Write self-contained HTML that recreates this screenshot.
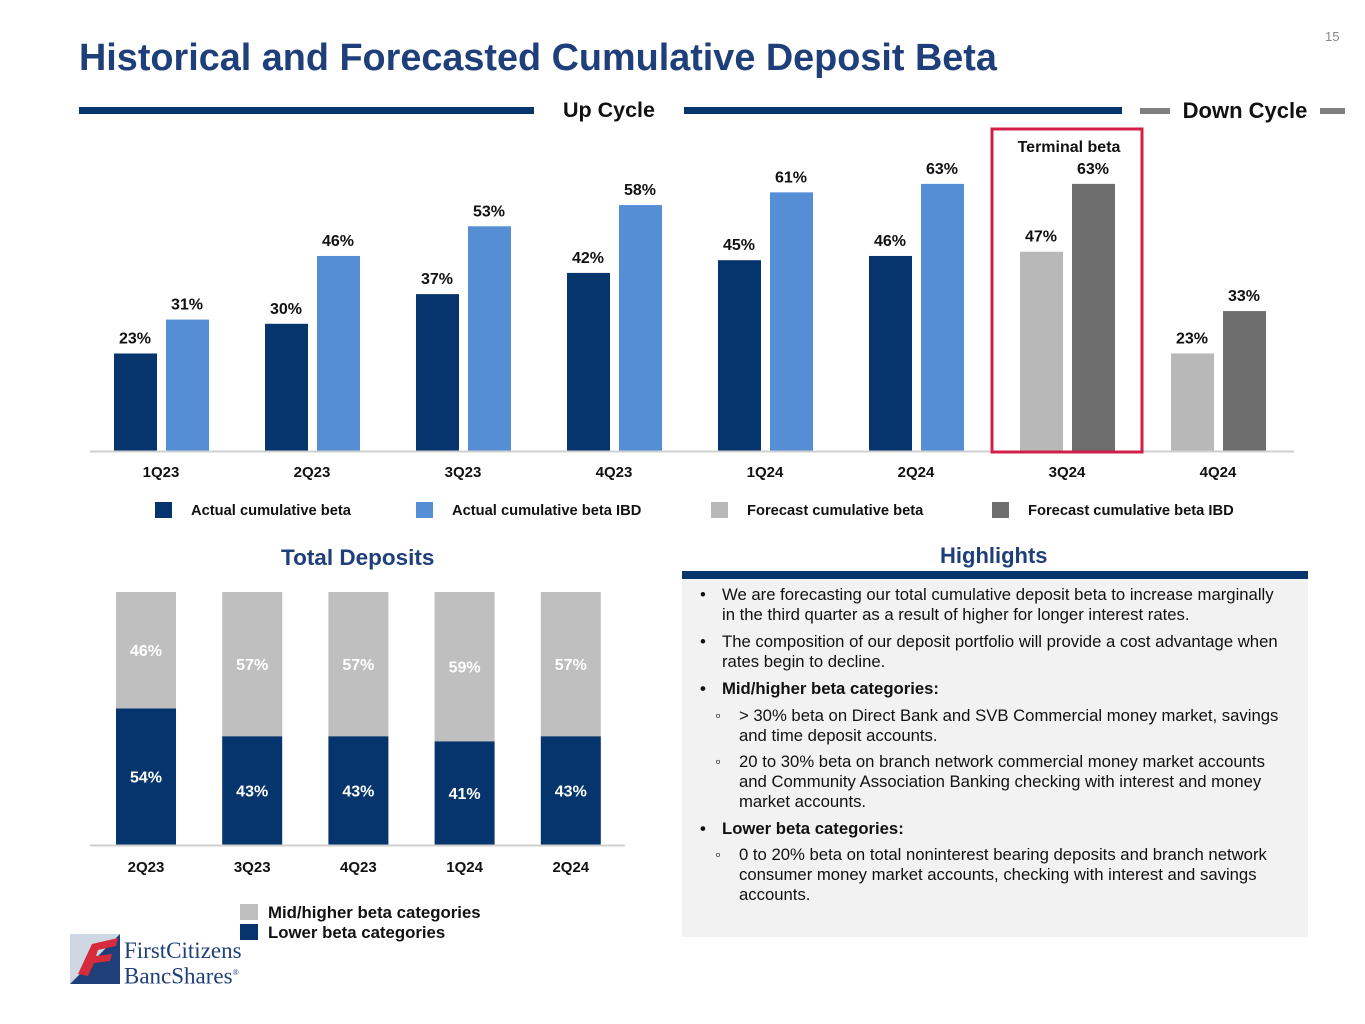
<!DOCTYPE html>
<html><head><meta charset="utf-8">
<style>
body{margin:0;width:1365px;height:1024px;background:#fff;font-family:"Liberation Sans",Arial,sans-serif;position:relative;overflow:hidden}
.abs{position:absolute;white-space:nowrap}
.hl{position:absolute;font-size:16.7px;color:#111;white-space:nowrap;line-height:20px}
</style></head><body>
<div class="abs" style="left:79px;top:37px;font-size:37.8px;font-weight:bold;color:#1f3f7a">Historical and Forecasted Cumulative Deposit Beta</div>
<div class="abs" style="left:1325px;top:29px;font-size:13px;color:#888">15</div>

<svg id="topChart" width="1365" height="540" style="position:absolute;left:0;top:0" font-family="Liberation Sans, Arial, sans-serif"></svg>

<div class="abs" style="left:281px;top:545px;font-size:22.5px;font-weight:bold;color:#1f3f7a">Total Deposits</div>
<svg id="botChart" width="680" height="400" style="position:absolute;left:0;top:580px" font-family="Liberation Sans, Arial, sans-serif"></svg>
<div class="abs" style="left:240px;top:903px;font-size:16.8px;font-weight:bold;color:#111"><span style="display:inline-block;width:18px;height:16px;background:#bfbfbf;vertical-align:-2px;margin-right:10px"></span>Mid/higher beta categories</div>
<div class="abs" style="left:240px;top:923px;font-size:16.8px;font-weight:bold;color:#111"><span style="display:inline-block;width:18px;height:16px;background:#06346c;vertical-align:-2px;margin-right:10px"></span>Lower beta categories</div>

<div class="abs" style="left:70px;top:930px;width:190px;height:56px">
<svg width="52" height="54" style="position:absolute;left:0;top:0"><rect x="0" y="4" width="50" height="50" fill="#1f3f7a"/><polygon points="0,4 50,4 0,54" fill="#cfd6e4"/><path d="M8 44 L22 14 L48 8 L46 16 L28 20 L26 26 L42 24 L40 31 L24 33 L18 46 Z" fill="#d52b3a"/></svg>
<div class="abs" style="left:54px;top:10px;font-family:'Liberation Serif',serif;font-size:23px;color:#1f3f7a;line-height:22px">FirstCitizens<br>BancShares<sup style="font-size:8px">®</sup></div>
</div>

<div class="abs" style="left:940px;top:543px;font-size:22px;font-weight:bold;color:#1f3f7a">Highlights</div>
<div class="abs" style="left:682px;top:571px;width:626px;height:8px;background:#06346c"></div>
<div class="abs" style="left:682px;top:579px;width:626px;height:358px;background:#f2f2f2"></div>
<div class="hl" style="left:700px;top:585px">•</div>
<div class="hl" style="left:722px;top:585px">We are forecasting our total cumulative deposit beta to increase marginally<br>in the third quarter as a result of higher for longer interest rates.</div>
<div class="hl" style="left:700px;top:632px">•</div>
<div class="hl" style="left:722px;top:632px">The composition of our deposit portfolio will provide a cost advantage when<br>rates begin to decline.</div>
<div class="hl" style="left:700px;top:679px;font-weight:bold">•</div>
<div class="hl" style="left:722px;top:679px;font-weight:bold">Mid/higher beta categories:</div>
<div class="hl" style="left:715px;top:706px">◦</div>
<div class="hl" style="left:739px;top:706px">&gt; 30% beta on Direct Bank and SVB Commercial money market, savings<br>and time deposit accounts.</div>
<div class="hl" style="left:715px;top:752px">◦</div>
<div class="hl" style="left:739px;top:752px">20 to 30% beta on branch network commercial money market accounts<br>and Community Association Banking checking with interest and money<br>market accounts.</div>
<div class="hl" style="left:700px;top:819px;font-weight:bold">•</div>
<div class="hl" style="left:722px;top:819px;font-weight:bold">Lower beta categories:</div>
<div class="hl" style="left:715px;top:845px">◦</div>
<div class="hl" style="left:739px;top:845px">0 to 20% beta on total noninterest bearing deposits and branch network<br>consumer money market accounts, checking with interest and savings<br>accounts.</div>

<script>
const quarters=["1Q23","2Q23","3Q23","4Q23","1Q24","2Q24","3Q24","4Q24"];
const betaVals=[23,30,37,42,45,46,47,23];
const ibdVals=[31,46,53,58,61,63,63,33];
const forecastFlags=[0,0,0,0,0,0,1,1];
const depQuarters=["2Q23","3Q23","4Q23","1Q24","2Q24"];
const lowerVals=[54,43,43,41,43];
const upperVals=[46,57,57,59,57];

const NS="http://www.w3.org/2000/svg";
function mk(svg,tag,attrs,text){const e=document.createElementNS(NS,tag);for(const k in attrs)e.setAttribute(k,attrs[k]);if(text!==undefined)e.textContent=text;svg.appendChild(e);return e;}

const topSvg=document.getElementById('topChart');
const base=451, pxPer=4.24;
const xC=i=>161+151*i;
const yV=v=>base-v*pxPer;
let e;
e=mk(topSvg,'rect',{x:79,y:107,width:455,height:7,fill:'#06346c'});

e=mk(topSvg,'text',{x:609,y:117,'text-anchor':'middle','font-size':21.5,'font-weight':'bold',fill:'#111'},'Up Cycle');

e=mk(topSvg,'rect',{x:684,y:107,width:438,height:7,fill:'#06346c'});

e=mk(topSvg,'rect',{x:1140,y:108,width:30,height:6,fill:'#7f7f7f'});

e=mk(topSvg,'text',{x:1245,y:118,'text-anchor':'middle','font-size':22,'font-weight':'bold',fill:'#111'},'Down Cycle');

e=mk(topSvg,'rect',{x:1320,y:108,width:25,height:6,fill:'#7f7f7f'});


quarters.forEach((q,i)=>{
  const f=forecastFlags[i];
  const c1=f?'#b8b8b8':'#06346c', c2=f?'#6e6e6e':'#558ed5';
  let b=mk(topSvg,'rect',{x:xC(i)-47,y:yV(betaVals[i]),width:43,height:betaVals[i]*pxPer,fill:c1});
  
  
  b=mk(topSvg,'rect',{x:xC(i)+5,y:yV(ibdVals[i]),width:43,height:ibdVals[i]*pxPer,fill:c2});
  
  
  let t=mk(topSvg,'text',{x:xC(i)-26,y:yV(betaVals[i])-10,'text-anchor':'middle','font-size':16,'font-weight':'bold',fill:'#111'},betaVals[i]+'%');
  
  
  t=mk(topSvg,'text',{x:xC(i)+26,y:yV(ibdVals[i])-10,'text-anchor':'middle','font-size':16,'font-weight':'bold',fill:'#111'},ibdVals[i]+'%');
  
  
  t=mk(topSvg,'text',{x:xC(i),y:477,'text-anchor':'middle','font-size':15,'font-weight':'bold',fill:'#111'},q);
  
  
});
e=mk(topSvg,'line',{x1:90,y1:451.5,x2:1294,y2:451.5,stroke:'#d0d0d0','stroke-width':2});

e=mk(topSvg,'rect',{x:992,y:129,width:150,height:323,fill:'none',stroke:'#d21f4a','stroke-width':3});

e=mk(topSvg,'text',{x:1069,y:152,'text-anchor':'middle','font-size':16,'font-weight':'bold',fill:'#111'},'Terminal beta');

const legItems=[['#06346c','Actual cumulative beta',155],['#558ed5','Actual cumulative beta IBD',416],['#b8b8b8','Forecast cumulative beta',711],['#6e6e6e','Forecast cumulative beta IBD',992]];
legItems.forEach((l,i)=>{
  let r=mk(topSvg,'rect',{x:l[2],y:502,width:17,height:16,fill:l[0]});
  
  
  let t=mk(topSvg,'text',{x:l[2]+36,y:515,'font-size':14.7,'font-weight':'bold',fill:'#111'},l[1]);
  
  
});

const botSvg=document.getElementById('botChart');
const bb=845-580, ph=2.53;
const bx=i=>146+106.2*i;
depQuarters.forEach((q,i)=>{
  const lh=lowerVals[i]*ph, uh=upperVals[i]*ph;
  let r=mk(botSvg,'rect',{x:bx(i)-30,y:bb-lh,width:60,height:lh,fill:'#06346c'});
  
  
  r=mk(botSvg,'rect',{x:bx(i)-30,y:bb-lh-uh,width:60,height:uh,fill:'#bfbfbf'});
  
  
  let t=mk(botSvg,'text',{x:bx(i),y:bb-lh/2+6,'text-anchor':'middle','font-size':16,'font-weight':'bold',fill:'#fff'},lowerVals[i]+'%');
  
  
  t=mk(botSvg,'text',{x:bx(i),y:bb-lh-uh/2+6,'text-anchor':'middle','font-size':16,'font-weight':'bold',fill:'#fff'},upperVals[i]+'%');
  
  
  t=mk(botSvg,'text',{x:bx(i),y:bb+27,'text-anchor':'middle','font-size':15,'font-weight':'bold',fill:'#111'},q);
  
  
});
e=mk(botSvg,'line',{x1:90,y1:bb+0.5,x2:625,y2:bb+0.5,stroke:'#d0d0d0','stroke-width':2});

</script>
</body></html>
